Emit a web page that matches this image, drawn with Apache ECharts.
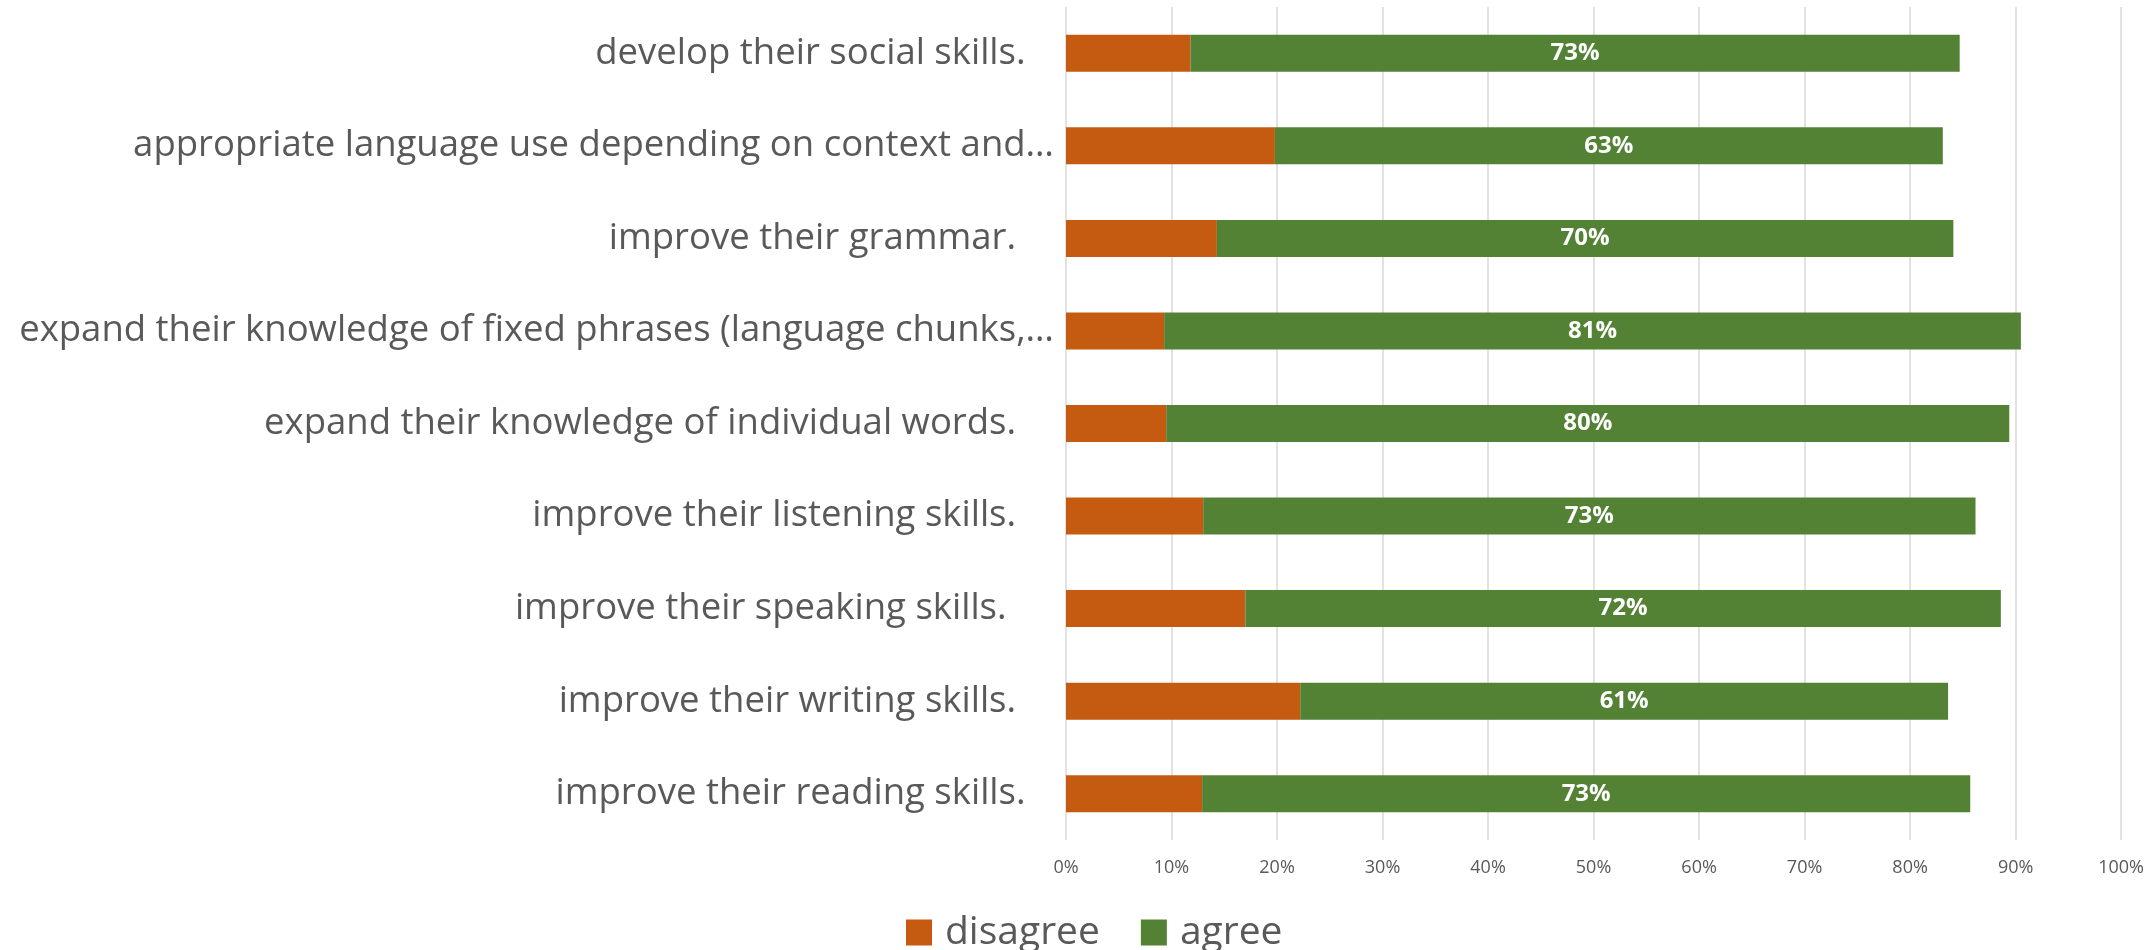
<!DOCTYPE html>
<html>
<head>
<meta charset="utf-8">
<title>Agree / disagree by skill</title>
<script src="https://cdn.jsdelivr.net/npm/echarts@6/dist/echarts.min.js"></script>
<style>
  html, body { margin: 0; padding: 0; background: #ffffff; }
  #chart { width: 2147px; height: 950px; }
</style>
</head>
<body>
<div id="chart"></div>
<script>
// Statements, listed top to bottom (trailing spaces are part of the label text)
const categories = [
  'develop their social skills.   ',
  'appropriate language use depending on context and\u2026',
  'improve their grammar.    ',
  'expand their knowledge of fixed phrases (language chunks,\u2026',
  'expand their knowledge of individual words.    ',
  'improve their listening skills.    ',
  'improve their speaking skills.     ',
  'improve their writing skills.    ',
  'improve their reading skills.   '
];

// Share of respondents, in percent
const disagree = [11.8, 19.8, 14.3, 9.3, 9.5, 13.0, 17.0, 22.2, 12.9];
const agree    = [72.9, 63.3, 69.8, 81.2, 79.9, 73.2, 71.6, 61.4, 72.8];

const seriesNames = ['disagree', 'agree'];
const seriesColors = ['#C55A11', '#548235'];

const axisMin = 0;
const axisMax = 100;
const axisStep = 10;

const FONT = '"Open Sans", sans-serif';
const TEXT = '#595959';

const chart = echarts.init(document.getElementById('chart'), null, { renderer: 'canvas' });

chart.setOption({
  backgroundColor: '#ffffff',
  animation: false,
  textStyle: { fontFamily: FONT },
  grid: { left: 1066, right: 19, top: 7, bottom: 110, containLabel: false },
  legend: {
    data: seriesNames,
    left: 901,
    top: 908,
    icon: 'rect',
    itemWidth: 26,
    itemHeight: 26,
    itemGap: 41,
    textStyle: { fontFamily: FONT, fontSize: 39, color: TEXT, padding: [0, 0, 0, 8] }
  },
  xAxis: {
    type: 'value',
    min: axisMin,
    max: axisMax,
    interval: axisStep,
    axisLine: { show: false },
    axisTick: { show: false },
    splitLine: { show: true, lineStyle: { color: '#d9d9d9', width: 1.5 } },
    axisLabel: {
      formatter: '{value}%',
      fontFamily: FONT,
      fontSize: 18,
      color: TEXT,
      margin: 19
    }
  },
  yAxis: {
    type: 'category',
    data: categories,
    inverse: true,
    axisLine: { show: false },
    axisTick: { show: false },
    axisLabel: {
      fontFamily: FONT,
      fontSize: 36.5,
      color: TEXT,
      margin: 12,
      align: 'right'
    }
  },
  series: [
    {
      name: seriesNames[0],
      type: 'bar',
      stack: 'total',
      barWidth: 37,
      data: disagree,
      itemStyle: { color: seriesColors[0] }
    },
    {
      name: seriesNames[1],
      type: 'bar',
      stack: 'total',
      barWidth: 37,
      data: agree,
      itemStyle: { color: seriesColors[1] },
      label: {
        show: true,
        position: 'inside',
        color: '#ffffff',
        fontFamily: FONT,
        fontWeight: 'bold',
        fontSize: 24,
        formatter: p => Math.round(p.value) + '%'
      }
    }
  ]
});
</script>
</body>
</html>
